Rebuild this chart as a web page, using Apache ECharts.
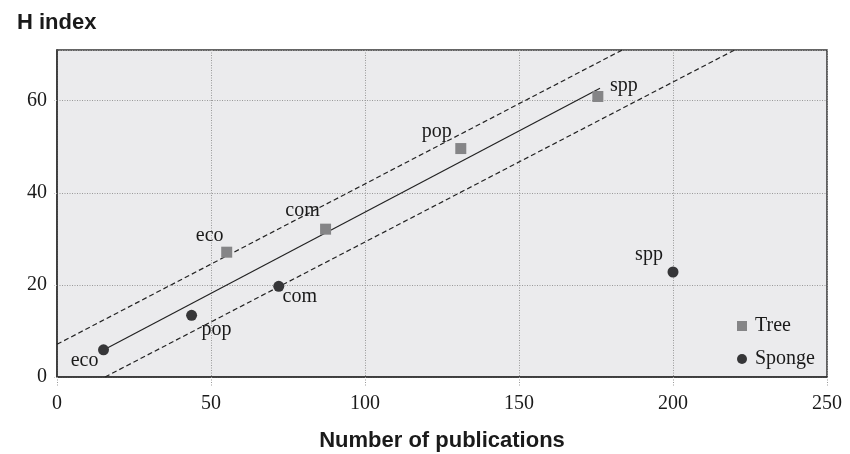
<!DOCTYPE html>
<html>
<head>
<meta charset="utf-8">
<script src="https://cdn.jsdelivr.net/npm/echarts@6/dist/echarts.min.js"></script>
<style>html,body{margin:0;padding:0;background:#fff;}#chart{width:850px;height:454px;}</style>
</head>
<body>
<div id="chart"></div>
<script>
// Data
var categories = ['eco', 'com', 'pop', 'spp'];
var treeX = [55.1, 87.2, 131.1, 175.6];
var treeY = [27.1, 32.1, 49.6, 60.9];
var spongeX = [15.1, 72.0, 43.7, 200.0];
var spongeY = [5.9, 19.7, 13.4, 22.8];
var spongeNames = ['eco', 'com', 'pop', 'spp'];
var fitLine = [[15.1, 5.85], [176.3, 62.7]];
var upperBand = [[0, 7.1], [183.5, 71]];
var lowerBand = [[15.6, 0], [220, 71]];
var xTicks = [0, 50, 100, 150, 200, 250];
var yTicks = [0, 20, 40, 60];

// label offsets (style only)
var treeLabelOffset = { eco: [-17, -16], com: [-23, -18], pop: [-24, -17], spp: [26, -11] };
var spongeLabelOffset = { eco: [-19, 11], com: [21, 10], pop: [25, 14], spp: [-24, -17] };

var serif = '"Liberation Serif", "DejaVu Serif", serif';
var sans = '"Liberation Sans", Arial, sans-serif';

function mk(xs, ys, names, offsets) {
  return xs.map(function (x, i) {
    return {
      value: [x, ys[i]],
      name: names[i],
      label: {
        show: true, formatter: names[i], position: 'inside', offset: offsets[names[i]],
        align: 'center', verticalAlign: 'middle',
        fontFamily: serif, fontSize: 20, color: '#1a1a1a', opacity: 1,
        textBorderWidth: 0
      }
    };
  });
}

var chart = echarts.init(document.getElementById('chart'), null, { renderer: 'canvas' });
chart.setOption({
  animation: false,
  backgroundColor: '#fff',
  title: {
    text: 'H index', left: 12, top: 7,
    textStyle: { fontFamily: sans, fontWeight: 'bold', fontSize: 22, color: '#1a1a1a' }
  },
  grid: {
    left: 57, right: 23, top: 50, bottom: 77,
    outerBoundsMode: 'none', containLabel: false,
    show: true, backgroundColor: '#ebebed', borderColor: '#333', borderWidth: 1.5
  },
  legend: {
    orient: 'vertical', left: 732, top: 311,
    itemWidth: 10, itemHeight: 10, itemGap: 13,
    textStyle: { fontFamily: serif, fontSize: 20, color: '#1a1a1a', padding: [0, 0, 0, 3] },
    data: [{ name: 'Tree', icon: 'rect' }, { name: 'Sponge', icon: 'circle' }]
  },
  xAxis: {
    type: 'value', min: 0, max: 250, interval: 50,
    name: 'Number of publications', nameLocation: 'middle', nameGap: 53,
    nameTextStyle: { fontFamily: sans, fontWeight: 'bold', fontSize: 22, color: '#1a1a1a' },
    axisLine: { show: true, onZero: false, lineStyle: { color: '#333', width: 1.5 } },
    axisTick: { show: true, length: 9, lineStyle: { color: '#999', type: [1, 1.5], width: 1 } },
    axisLabel: {
      margin: 17, fontFamily: serif, fontSize: 20, color: '#1a1a1a',
      formatter: function (v) { return xTicks.indexOf(v) >= 0 ? String(v) : ''; }
    },
    splitLine: { show: true, lineStyle: { color: '#999', type: [1, 1.5], width: 1 } }
  },
  yAxis: {
    type: 'value', min: 0, max: 71, interval: 20,
    axisLine: { show: true, onZero: false, lineStyle: { color: '#333', width: 1.5 } },
    axisTick: { show: true, length: 3, lineStyle: { color: '#999', type: [1, 1.5], width: 1 } },
    axisLabel: {
      margin: 10, fontFamily: serif, fontSize: 20, color: '#1a1a1a', showMaxLabel: false,
      formatter: function (v) { return yTicks.indexOf(v) >= 0 ? String(v) : ''; }
    },
    splitLine: { show: true, lineStyle: { color: '#999', type: [1, 1.5], width: 1 } }
  },
  series: [
    {
      name: 'fit', type: 'line', data: fitLine, symbol: 'none', silent: true, clip: true,
      lineStyle: { color: '#222', width: 1.2 }, z: 2
    },
    {
      name: 'upper', type: 'line', data: upperBand, symbol: 'none', silent: true, clip: true,
      lineStyle: { color: '#222', width: 1.2, type: [5, 3] }, z: 2
    },
    {
      name: 'lower', type: 'line', data: lowerBand, symbol: 'none', silent: true, clip: true,
      lineStyle: { color: '#222', width: 1.2, type: [5, 3] }, z: 2
    },
    {
      name: 'Tree', type: 'scatter', symbol: 'rect', symbolSize: 11,
      itemStyle: { color: '#858587', opacity: 1 }, z: 3,
      data: mk(treeX, treeY, categories, treeLabelOffset)
    },
    {
      name: 'Sponge', type: 'scatter', symbol: 'circle', symbolSize: 11,
      itemStyle: { color: '#363638', opacity: 1 }, z: 3,
      data: mk(spongeX, spongeY, spongeNames, spongeLabelOffset)
    }
  ]
});
</script>
</body>
</html>
